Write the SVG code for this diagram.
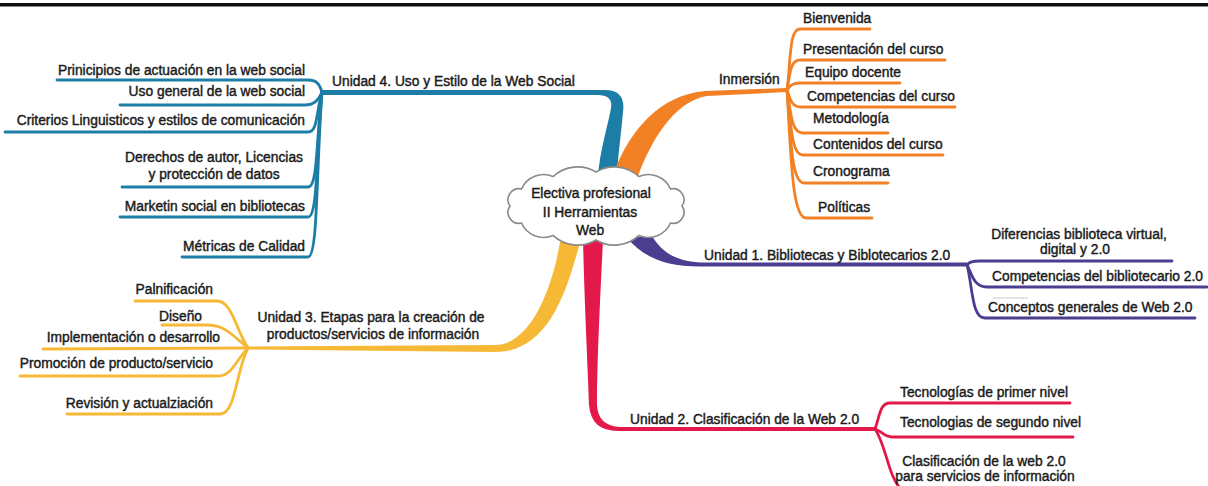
<svg xmlns="http://www.w3.org/2000/svg" width="1208" height="486" viewBox="0 0 1208 486">
<style>
.t{font-family:"Liberation Sans",Arial,sans-serif;font-size:13.8px;fill:#1a1a1a;stroke:#1a1a1a;stroke-width:0.42}
.e{text-anchor:end}
.m{text-anchor:middle}
.s{fill:none;stroke-width:2.8;stroke-linecap:round;stroke-linejoin:round}
.blue{stroke:#1c7ea6}.orange{stroke:#f28024}.purple{stroke:#4b3d8f}.red{stroke:#e3184b}.yellow{stroke:#f6b935}
</style>
<rect x="0" y="0" width="1208" height="486" fill="#ffffff"/>
<rect x="0" y="3" width="1208" height="3.5" fill="#111"/>
<g id="connectors">
  <path fill="#1c7ea6" d="M598,176 C600,150 608,125 611,108 Q613,95 598,95 L322,95 L322,90 L605,90 Q626,90 623,112 C621,135 618,155 617,176 Z"/>
  <path fill="#f28024" d="M614,172 C630,130 660,95 705,91 L787,88 L787,92 L707,96 C680,100 655,130 638,176 Z"/>
  <path fill="#4b3d8f" d="M627,238 C645,258 665,266.5 700,266.5 L967,266.5 L967,262.5 L700,262.5 C675,261 662,252 652,236 Z"/>
  <path fill="#e3184b" d="M583,240 C585,320 588,370 589,405 Q591,431 618,431 L875,431 L875,427 L620,427 Q598,426 597,405 C597,370 599,320 603,240 Z"/>
  <path fill="#f6b935" d="M560,242 C552,290 530,345 495,345 L248,346.5 L248,349.5 L495,352 C545,352 565,300 580,242 Z"/>
  <path class="s blue" d="M57,80 L308,80 C318,80 320,86 322,92"/>
  <path class="s blue" d="M120,105 L305,105 C315,105 319,99 322,92"/>
  <path class="s blue" d="M322,92 C316,112 318,132 308,132 L5,132"/>
  <path class="s blue" d="M322,92 C316,140 318,187 308,187 L122,187"/>
  <path class="s blue" d="M322,92 C316,155 318,217 308,217 L120,217"/>
  <path class="s blue" d="M322,92 C316,175 318,257 308,257 L182,257"/>
  <path class="s orange" d="M787,90 C791,60 789,29 800,29 L870,29"/>
  <path class="s orange" d="M787,90 C790,75 790,60 800,60 L945,60"/>
  <path class="s orange" d="M787,90 C790,86 792,83 800,83 L900,83"/>
  <path class="s orange" d="M787,90 C790,98 791,107 801,107 L955,107"/>
  <path class="s orange" d="M787,90 C791,112 791,133 803,133 L888,133"/>
  <path class="s orange" d="M787,90 C791,123 791,155 803,155 L943,155"/>
  <path class="s orange" d="M787,90 C791,137 791,183 804,183 L888,183"/>
  <path class="s orange" d="M787,90 C791,155 792,218 806,218 L872,218"/>
  <path class="s purple" d="M967,264.5 C970,262 972,261 980,261 L1172,261"/>
  <path class="s purple" d="M967,264.5 C972,275 974,287 987,287 L1207,287"/>
  <path class="s purple" d="M967,264.5 C973,290 972,318 985,318 L1195,318"/>
  <path class="s red" d="M875,429 C880,415 880,403 890,403 L1070,403"/>
  <path class="s red" d="M875,429 C882,431 884,437 892,437 L1073,437"/>
  <path class="s red" d="M875,429 C886,445 888,475 900,488 L1070,488"/>
  <path class="s yellow" d="M248,348 C236,330 232,301 217,301 L135,301"/>
  <path class="s yellow" d="M248,348 C232,335 225,325 207,325 L162,325"/>
  <path class="s yellow" d="M248,348 L43,349"/>
  <path class="s yellow" d="M248,348 C236,360 232,376 218,376 L20,376"/>
  <path class="s yellow" d="M248,348 C236,370 236,414 220,414 L67,414"/>
</g>
<line x1="993" y1="298" x2="1028" y2="298" stroke="#c8c8c8" stroke-width="1"/>
<g id="center">
  <path fill="#ffffff" stroke="#8a8a8a" stroke-width="1.6" d="M510,206 A11,11 0 0 1 521.5,189 A24,24 0 0 1 553,176.6 A36,36 0 0 1 596,172 A36,36 0 0 1 639,176.6 A24,24 0 0 1 670.5,189 A11,11 0 0 1 682,206 A11,11 0 0 1 670.5,223 A24,24 0 0 1 639,235.4 A36,36 0 0 1 596,240 A36,36 0 0 1 553,235.4 A24,24 0 0 1 521.5,223 A11,11 0 0 1 510,206 Z"/>
  <text class="t m" x="591" y="198">Electiva profesional</text>
  <text class="t m" x="590" y="217">II Herramientas</text>
  <text class="t m" x="590" y="235">Web</text>
</g>
<g id="unidad4"><text class="t" x="332" y="86">Unidad 4. Uso y Estilo de la Web Social</text></g>
<g id="u4-principios"><text class="t e" x="305" y="75">Prinicipios de actuación en la web social</text></g>
<g id="u4-uso"><text class="t e" x="305" y="96">Uso general de la web social</text></g>
<g id="u4-criterios"><text class="t e" x="305" y="125">Criterios Linguisticos y estilos de comunicación</text></g>
<g id="u4-derechos"><text class="t m" x="214" y="162">Derechos de autor, Licencias</text><text class="t m" x="214" y="179">y protección de datos</text></g>
<g id="u4-marketin"><text class="t e" x="305" y="211">Marketin social en bibliotecas</text></g>
<g id="u4-metricas"><text class="t e" x="305" y="251">Métricas de Calidad</text></g>
<g id="inmersion"><text class="t" x="719" y="84">Inmersión</text></g>
<g id="in-bienvenida"><text class="t" x="803" y="23">Bienvenida</text></g>
<g id="in-presentacion"><text class="t" x="803" y="54">Presentación del curso</text></g>
<g id="in-equipo"><text class="t" x="805" y="77">Equipo docente</text></g>
<g id="in-competencias"><text class="t" x="807" y="101">Competencias del curso</text></g>
<g id="in-metodologia"><text class="t" x="813" y="123">Metodología</text></g>
<g id="in-contenidos"><text class="t" x="813" y="149">Contenidos del curso</text></g>
<g id="in-cronograma"><text class="t" x="813" y="176">Cronograma</text></g>
<g id="in-politicas"><text class="t" x="818" y="212">Políticas</text></g>
<g id="unidad1"><text class="t" x="704" y="260">Unidad 1. Bibliotecas y Biblotecarios 2.0</text></g>
<g id="u1-diferencias"><text class="t m" x="1079" y="239">Diferencias biblioteca virtual,</text><text class="t m" x="1075" y="254">digital y 2.0</text></g>
<g id="u1-competencias"><text class="t" x="992" y="281">Competencias del bibliotecario 2.0</text></g>
<g id="u1-conceptos"><text class="t" x="988" y="312">Conceptos generales de Web 2.0</text></g>
<g id="unidad2"><text class="t" x="630" y="424">Unidad 2. Clasificación de la Web 2.0</text></g>
<g id="u2-primer"><text class="t" x="900" y="397">Tecnologías de primer nivel</text></g>
<g id="u2-segundo"><text class="t" x="900" y="427">Tecnologias de segundo nivel</text></g>
<g id="u2-clasificacion"><text class="t m" x="984" y="466">Clasificación de la web 2.0</text><text class="t m" x="985" y="481">para servicios de información</text></g>
<g id="unidad3"><text class="t m" x="371" y="322">Unidad 3. Etapas para la creación de</text><text class="t m" x="373" y="339">productos/servicios de información</text></g>
<g id="u3-planificacion"><text class="t e" x="213" y="294">Palnificación</text></g>
<g id="u3-diseno"><text class="t e" x="202" y="321">Diseño</text></g>
<g id="u3-implementacion"><text class="t e" x="220" y="342">Implementación o desarrollo</text></g>
<g id="u3-promocion"><text class="t e" x="213" y="368">Promoción de producto/servicio</text></g>
<g id="u3-revision"><text class="t e" x="213" y="408">Revisión y actualziación</text></g>
</svg>
